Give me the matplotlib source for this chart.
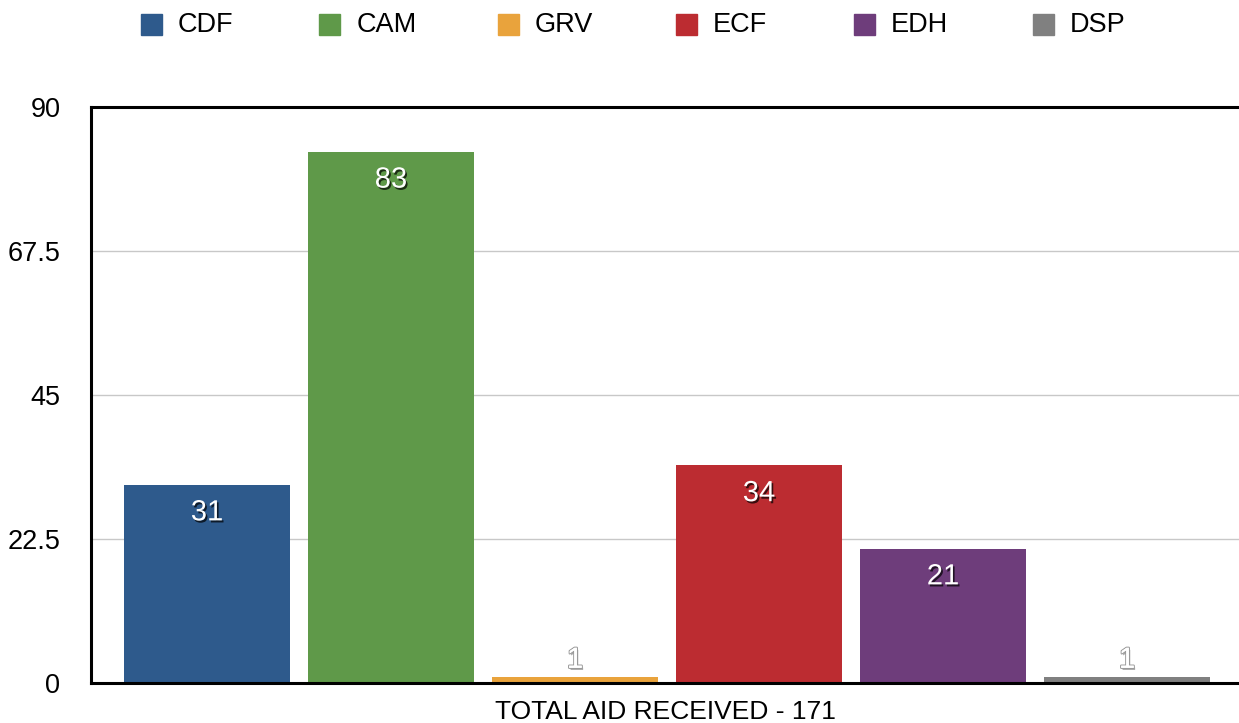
import matplotlib.pyplot as plt
import matplotlib.patheffects as pe
import matplotlib.transforms as mtransforms
from matplotlib.patches import Rectangle

categories = ["CDF", "CAM", "GRV", "ECF", "EDH", "DSP"]
values = [31, 83, 1, 34, 21, 1]
colors = ["#2e5a8c", "#5f9949", "#e9a33c", "#bc2c31", "#6e3d7b", "#808080"]
yticks = [0, 22.5, 45, 67.5, 90]
ytick_labels = ["0", "22.5", "45", "67.5", "90"]
xlabel = "TOTAL AID RECEIVED - 171"

W, H = 1239, 723
plt.rcParams["font.family"] = ["Liberation Sans", "DejaVu Sans"]

fig = plt.figure(figsize=(W / 100, H / 100), dpi=100)
ax = fig.add_axes([91 / W, 1 - 683 / H, 1 - 91 / W, (683 - 107) / H])

x = list(range(len(categories)))
bar_w = 166 / 184
bars = ax.bar(x, values, width=bar_w, color=colors, zorder=3)

ax.set_xlim(-bar_w / 2 - 33 / 184, len(x) - 1 + bar_w / 2 + 29 / 184)
ax.set_ylim(0, 90)
ax.set_yticks(yticks)
ax.set_yticklabels(ytick_labels, fontsize=19.5)
# nudge tick labels a few pixels down, as in the original
shift = mtransforms.ScaledTranslation(0, -6 / 72, fig.dpi_scale_trans)
for t in ax.get_yticklabels():
    t.set_transform(t.get_transform() + shift)
ax.set_xticks([])
ax.tick_params(axis="y", length=0, pad=22)
ax.yaxis.grid(True, color="#c8c8c8", linewidth=1, zorder=0)
ax.set_xlabel(xlabel, fontsize=19, labelpad=12)

for side in ["left", "bottom", "top"]:
    ax.spines[side].set_color("black")
    ax.spines[side].set_linewidth(2.2)
ax.spines["bottom"].set_zorder(5)
ax.spines["right"].set_visible(False)

# value labels: white with a dark drop shadow
shadow = [pe.SimplePatchShadow(offset=(1.2, -1.5), shadow_rgbFace="black", alpha=0.7), pe.Normal()]
outline = [pe.SimplePatchShadow(offset=(1, -1.5), shadow_rgbFace="black", alpha=0.35),
           pe.withStroke(linewidth=1.6, foreground="#999999"), pe.Normal()]
for b, v in zip(bars, values):
    cx = b.get_x() + b.get_width() / 2
    if v > 5:
        ax.annotate(str(v), (cx, v), xytext=(0, -20), textcoords="offset points",
                    ha="center", va="center", color="white", fontsize=21,
                    path_effects=shadow, zorder=6)
    else:
        ax.annotate(str(v), (cx, v), xytext=(0, 2), textcoords="offset points",
                    ha="center", va="bottom", color="white", fontsize=21,
                    path_effects=outline, zorder=6)

# legend row across the top
for i, (name, c) in enumerate(zip(categories, colors)):
    lx = 141 + 178.3 * i
    fig.patches.append(Rectangle((lx / W, 1 - 35 / H), 21 / W, 21 / H,
                                 transform=fig.transFigure, color=c, figure=fig))
    fig.text((lx + 37) / W, 1 - 25 / H, name, fontsize=19.5, va="center", ha="left")

fig.savefig("out.png", dpi=100)
